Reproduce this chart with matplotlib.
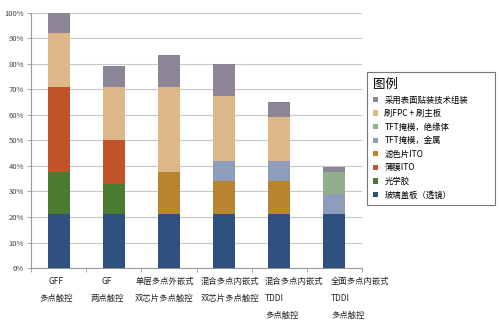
import matplotlib
matplotlib.use("Agg")
import matplotlib.pyplot as plt
import numpy as np
from matplotlib.ticker import FuncFormatter, FixedLocator

plt.rcParams["font.family"] = ["Noto Sans CJK SC", "DejaVu Sans"]

categories = [
    "GFF\n多点触控",
    "GF\n两点触控",
    "单层多点外嵌式\n双芯片多点触控",
    "混合多点内嵌式\n双芯片多点触控",
    "混合多点内嵌式\nTDDI\n多点触控",
    "全面多点内嵌式\nTDDI\n多点触控",
]

# stacked bottom -> top, percent of GFF cost
series_names = [
    "玻璃盖板（透镜）",
    "光学胶",
    "薄膜ITO",
    "滤色片ITO",
    "TFT掩模，金属",
    "TFT掩模，绝缘体",
    "刷FPC + 刷主板",
    "采用表面贴装技术组装",
]
glass = [21, 21, 21, 21, 21, 21]
glue = [16.5, 12, 0, 0, 0, 0]
film_ito = [33.5, 17, 0, 0, 0, 0]
filter_ito = [0, 0, 16.5, 13, 13, 0]
tft_metal = [0, 0, 0, 8, 8, 8]
tft_insul = [0, 0, 0, 0, 0, 8.5]
fpc = [21, 21, 33.5, 25.5, 17, 0]
smt = [8, 8, 12.5, 12.5, 6, 2]

colors = ["#2F4F7F", "#4C7A31", "#C1532B", "#B8852F",
          "#8D9DBA", "#90AE8A", "#DDB689", "#8B8596"]

fig = plt.figure(figsize=(5.0, 3.23), dpi=100)
ax = fig.add_axes([0.062, 0.170, 0.662, 0.7907])

x = np.arange(len(categories))
bottom = np.zeros(len(categories))
handles = []
for name, vals, c in zip(series_names,
                         [glass, glue, film_ito, filter_ito, tft_metal, tft_insul, fpc, smt],
                         colors):
    vals = np.array(vals, dtype=float)
    h = ax.bar(x, vals, 0.4, bottom=bottom, color=c, label=name, zorder=3)
    handles.append(h)
    bottom += vals

ax.set_xlim(-0.5, len(categories) - 0.5)
ax.set_ylim(0, 100)
ax.set_yticks(np.arange(0, 101, 10))
ax.yaxis.set_major_formatter(FuncFormatter(lambda v, p: f"{v:.0f}%"))
ax.grid(axis="y", color="#c8c8c8", linewidth=0.8, zorder=0)
ax.tick_params(axis="y", labelsize=5.5, labelcolor="#444444", length=3,
               width=0.6, color="#999999", pad=2)

ax.set_xticks([])
ax.xaxis.set_minor_locator(FixedLocator(np.arange(-0.5, len(categories), 1.0)))
ax.tick_params(axis="x", which="minor", length=3, width=0.6, color="#999999")

for s in ["top", "right"]:
    ax.spines[s].set_visible(False)
for s in ["left", "bottom"]:
    ax.spines[s].set_color("#999999")
    ax.spines[s].set_linewidth(0.8)

# category labels: (x shift, alignment) per label
label_place = [(-0.05, "center"), (-0.12, "center"), (-0.08, "center"),
               (0.1, "center"), (-0.26, "left"), (-0.06, "left")]
tr = ax.get_xaxis_transform()
for i, (lab, (dx, ha)) in enumerate(zip(categories, label_place)):
    ax.text(i + dx, -0.035, lab, transform=tr, ha=ha, va="top",
            fontsize=6, linespacing=2.1, multialignment=ha, color="#222222")

leg = ax.legend(handles[::-1], series_names[::-1], title="图例",
                loc="upper left", bbox_to_anchor=(0.734, 0.365, 0.256, 0.412),
                bbox_transform=fig.transFigure, mode="expand", borderaxespad=0,
                fontsize=6, title_fontsize=9,
                handlelength=0.6, handleheight=0.6, handletextpad=0.8,
                labelspacing=0.55, borderpad=0.7, fancybox=False,
                alignment="left", frameon=True)
leg.get_frame().set_edgecolor("#555555")
leg.get_frame().set_linewidth(0.8)

fig.savefig("out.png", dpi=100)
